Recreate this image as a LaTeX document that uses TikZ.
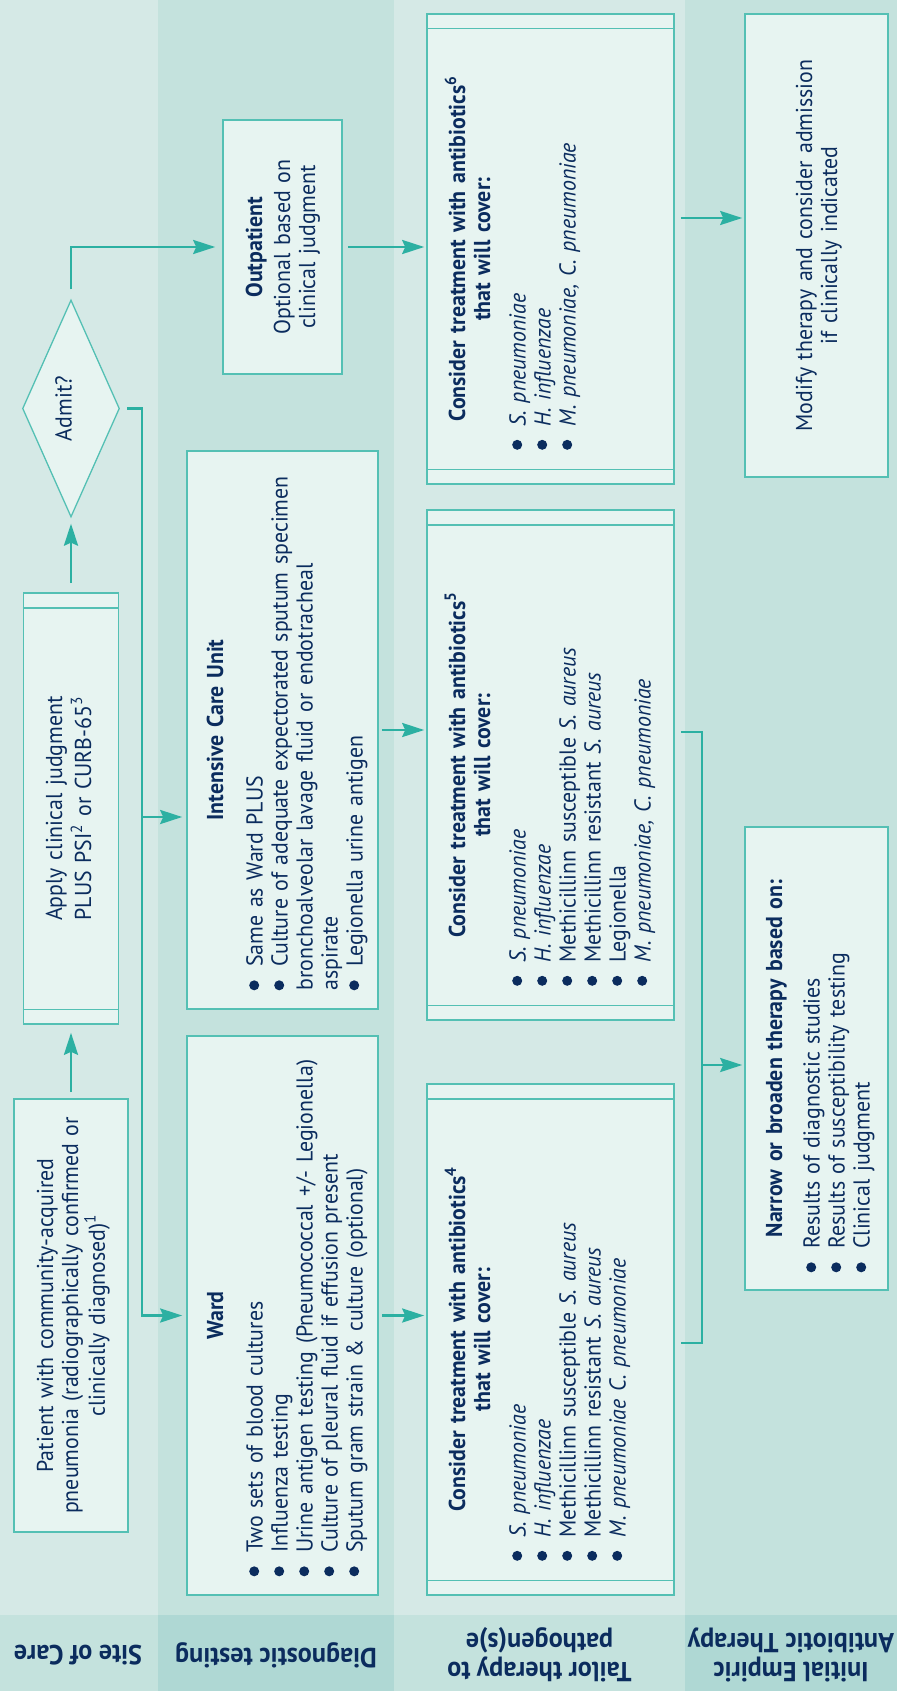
\documentclass[tikz,border=0pt]{standalone}
\usepackage{fontspec}
\setmainfont{PT Sans}[FakeStretch=0.95]
\usetikzlibrary{arrows.meta,shapes.geometric}
\definecolor{bandA}{HTML}{D5E9E6}
\definecolor{bandB}{HTML}{C4E2DD}
\definecolor{labB}{HTML}{AFD8D4}
\definecolor{boxfill}{HTML}{E7F4F1}
\definecolor{boxline}{HTML}{54C0B4}
\definecolor{arrowc}{HTML}{2CB0A2}
\definecolor{ink}{HTML}{0B2C5E}
\newcommand\bodyfont{\fontsize{23}{25}\selectfont}
\newcommand\labfont{\fontsize{27.5}{29}\selectfont\bfseries}
\newcommand\bdot{\tikz[baseline=0pt]\fill[ink] (5pt,8.5pt) circle[radius=5pt];}
\newcommand\bitem[1]{\par\noindent\hangindent=23.5pt\hangafter=1\makebox[23.5pt][l]{\bdot}\strut#1\par}
\tikzset{
  box/.style={draw=boxline, fill=boxfill, line width=1.6pt, rectangle, inner sep=0pt},
  boxl/.style={draw=boxline, line width=1.6pt},
  conn/.style={draw=arrowc, line width=2.6pt},
  arr/.style={conn, -{Stealth[length=22pt,width=14pt,inset=3pt]}},
  txt/.style={rotate=90, inner sep=0pt, text=ink, font=\bodyfont, align=left},
  ctxt/.style={txt, align=center},
  head/.style={ctxt, text width=520pt, anchor=north, font=\bodyfont\bfseries},
  list/.style={txt, text width=600pt, anchor=north west},
  lab/.style={rotate=180, inner sep=0pt, text=ink, font=\labfont, align=center},
}
\begin{document}
\begin{tikzpicture}[x=1pt,y=-1pt]
\useasboundingbox (0,0) rectangle (897,1691);
% bands
\fill[bandA] (0,0) rectangle (158,1615);
\fill[bandB] (158,0) rectangle (394,1615);
\fill[bandA] (394,0) rectangle (685,1615);
\fill[bandB] (685,0) rectangle (897,1615);
\fill[bandB] (0,1615) rectangle (158,1691);
\fill[labB] (158,1615) rectangle (394,1691);
\fill[bandB] (394,1615) rectangle (685,1691);
\fill[labB] (685,1615) rectangle (897,1691);
% boxes
\node[box, minimum width=114pt, minimum height=433pt] (patient) at (71,1315.5) {};
\node[box, minimum width=95pt, minimum height=431pt] (apply) at (71,808.5) {};
\node[diamond, draw=boxline, fill=boxfill, line width=1.3pt, inner sep=0pt, minimum width=97pt, minimum height=217pt] (admit) at (71,408.5) {};
\node[box, minimum width=119pt, minimum height=254pt] (outp) at (282.5,247) {};
\node[box, minimum width=191pt, minimum height=558pt] (icu) at (282.5,730) {};
\node[box, minimum width=191pt, minimum height=559pt] (ward) at (282.5,1315.5) {};
\node[box, minimum width=247pt, minimum height=470pt] (t3) at (550.5,249) {};
\node[box, minimum width=247pt, minimum height=510pt] (t2) at (550.5,765) {};
\node[box, minimum width=247pt, minimum height=511pt] (t1) at (550.5,1339.5) {};
\node[box, minimum width=143pt, minimum height=463pt] (modify) at (816.5,245.5) {};
\node[box, minimum width=143pt, minimum height=463pt] (narrow) at (816.5,1058.5) {};
\foreach \n in {apply,t1,t2,t3}{
  \draw[boxl] ([yshift=-15.5pt]\n.north west) -- ([yshift=-15.5pt]\n.north east);
  \draw[boxl] ([yshift=15.5pt]\n.south west) -- ([yshift=15.5pt]\n.south east);
}
% texts
\node[ctxt, text width=420pt, anchor=north] (patientT) at (35.5,1315.5) {\strut Patient with community-acquired\\pneumonia (radiographically confirmed or\\clinically diagnosed)\textsuperscript{1}};
\node[ctxt, text width=400pt, anchor=north] (applyT) at (44.5,808.5) {\strut Apply clinical judgment\\PLUS PSI\textsuperscript{2} or CURB-65\textsuperscript{3}};
\node[txt] (admitT) at (63.5,408.5) {Admit?};
\node[ctxt, text width=240pt, anchor=north] (outpT) at (244.5,247) {\strut\textbf{Outpatient}\\[3pt]Optional based on\\clinical judgment};
\node[head] (icuH) at (205.5,730) {\strut Intensive Care Unit};
\node[list] (icuL) at (237.5,990.5) {%
\bitem{Same as Ward PLUS}%
\bitem{Culture of adequate expectorated sputum specimen\\bronchoalveolar lavage fluid or endotracheal\\aspirate}%
\bitem{Legionella urine antigen}};
\node[head] (wardH) at (205.5,1315.5) {\strut Ward};
\node[list] (wardL) at (237.5,1576.5) {%
\bitem{Two sets of blood cultures}%
\bitem{Influenza testing}%
\bitem{Urine antigen testing (Pneumococcal +/- Legionella)}%
\bitem{Culture of pleural fluid if effusion present}%
\bitem{Sputum gram strain \& culture (optional)}};
\node[head] (t1H) at (444.5,1339.5) {\strut Consider treatment with antibiotics\textsuperscript{4}\\that will cover:};
\node[list] (t1L) at (500.5,1561) {%
\bitem{\textit{S. pneumoniae}}%
\bitem{\textit{H. influenzae}}%
\bitem{Methicillinn susceptible \textit{S. aureus}}%
\bitem{Methicillinn resistant \textit{S. aureus}}%
\bitem{\textit{M. pneumoniae C. pneumoniae}}};
\node[head] (t2H) at (444.5,765) {\strut Consider treatment with antibiotics\textsuperscript{5}\\that will cover:};
\node[list] (t2L) at (500.5,986) {%
\bitem{\textit{S. pneumoniae}}%
\bitem{\textit{H. influenzae}}%
\bitem{Methicillinn susceptible \textit{S. aureus}}%
\bitem{Methicillinn resistant \textit{S. aureus}}%
\bitem{Legionella}%
\bitem{\textit{M. pneumoniae, C. pneumoniae}}};
\node[head] (t3H) at (444.5,249) {\strut Consider treatment with antibiotics\textsuperscript{6}\\that will cover:};
\node[list] (t3L) at (500.5,450) {%
\bitem{\textit{S. pneumoniae}}%
\bitem{\textit{H. influenzae}}%
\bitem{\textit{M. pneumoniae, C. pneumoniae}}};
\node[ctxt, text width=440pt, anchor=north] (modifyT) at (794.5,245.5) {\strut Modify therapy and consider admission\\if clinically indicated};
\node[head] (narrowH) at (764.5,1058.5) {\strut Narrow or broaden therapy based on:};
\node[list] (narrowL) at (794.5,1272.5) {%
\bitem{Results of diagnostic studies}%
\bitem{Results of susceptibility testing}%
\bitem{Clinical judgment}};
% labels
\node[lab] (labSite) at (78,1655) {Site of Care};
\node[lab] (labDiag) at (276,1655) {Diagnostic testing};
\node[lab] (labTail) at (539.5,1655) {Tailor therapy to\\pathogen(s)e};
\node[lab] (labInit) at (791,1655) {Initial Empiric\\Antibiotic Therapy};
% connectors
\draw[arr, shorten <=6pt, shorten >=8pt] (patient.north) -- (apply.south);
\draw[arr, shorten <=9pt, shorten >=6pt] (apply.north) -- (admit.south);
\coordinate (busT) at (142,408.5);
\coordinate (busI) at (142,817);
\coordinate (busW) at (142,1315.5);
\draw[arr, shorten <=7pt, shorten >=4pt] (admit.east) -- (busT) -- (busW) -- (ward.west);
\draw[arr, shorten >=4pt] (busI) -- (icu.west |- busI);
\draw[arr, shorten <=10pt, shorten >=7pt] (admit.north) |- (outp.west);
\draw[arr, shorten <=5pt, shorten >=2pt] (outp.east) -- (outp.east -| t3.west);
\coordinate (m3) at (710,218);
\draw[arr, shorten <=6pt, shorten >=2pt] (t3.east |- m3) -- (modify.west |- m3);
\draw[arr, shorten <=3pt, shorten >=2pt] (icu.east) -- (icu.east -| t2.west);
\draw[arr, shorten <=3pt, shorten >=2pt] (ward.east) -- (ward.east -| t1.west);
\coordinate (brT) at (702,732);
\coordinate (brB) at (702,1343);
\coordinate (brM) at (702,1065);
\draw[conn, shorten <=6pt, shorten >=6pt] (t2.east |- brT) -- (brT) -- (brB) -- (t1.east |- brB);
\draw[arr, shorten >=2pt] (brM) -- (narrow.west |- brM);
\end{tikzpicture}
\end{document}
